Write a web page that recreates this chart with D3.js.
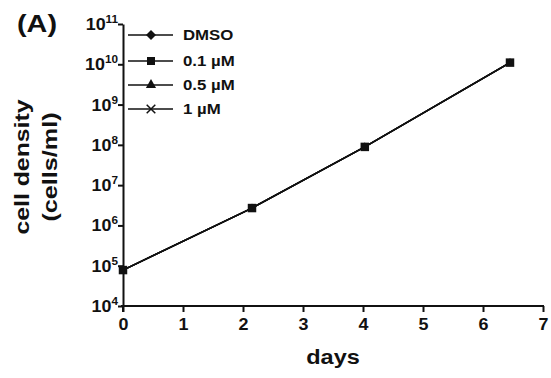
<!DOCTYPE html>
<html>
<head>
<meta charset="utf-8">
<script src="https://cdn.jsdelivr.net/npm/d3@7/dist/d3.min.js"></script>
<style>
  body { margin: 0; background: #fff; }
  text { font-family: Arial, "Liberation Sans", sans-serif; font-weight: bold; fill: #111; }
</style>
</head>
<body>
<svg id="chart" width="551" height="378"></svg>
<script>
// data
const days = [0, 2.15, 4.03, 6.45];
const dmso = [7.8e4, 2.7e6, 8.9e7, 1.1e10];
const um01 = [7.8e4, 2.7e6, 8.9e7, 1.1e10];
const um05 = [7.8e4, 2.7e6, 8.9e7, 1.1e10];
const um1  = [7.8e4, 2.7e6, 8.9e7, 1.1e10];
const seriesNames = ['DMSO', '0.1 µM', '0.5 µM', '1 µM'];
const xTicks = [0, 1, 2, 3, 4, 5, 6, 7];
const yExps = [4, 5, 6, 7, 8, 9, 10, 11];

const svg = d3.select('#chart');
const x = d3.scaleLinear().domain([0, 7]).range([123, 543]);
const y = d3.scaleLog().domain([1e4, 1e11]).range([306, 24]);

// the figure's lettering is wider than Arial, so stretch it a bit
function label(px, py, str, size, sx, rot) {
  return svg.append('text')
    .attr('transform', `translate(${px},${py})` + (rot ? ` rotate(${rot})` : '') + ` scale(${sx},1)`)
    .attr('font-size', size).text(str);
}

// axes
const xAxis = svg.append('g').attr('transform', 'translate(0,306)')
  .call(d3.axisBottom(x).tickValues(xTicks).tickFormat(d3.format('d'))
    .tickSize(6).tickPadding(7).tickSizeOuter(0));
const yAxis = svg.append('g').attr('transform', 'translate(123,0)')
  .call(d3.axisLeft(y).tickValues(yExps.map(e => Math.pow(10, e)))
    .tickSize(5).tickSizeOuter(0).tickFormat(''));
[xAxis, yAxis].forEach(g => {
  g.select('.domain').attr('stroke', '#111').attr('stroke-width', 2);
  g.selectAll('.tick line').attr('stroke', '#111').attr('stroke-width', 2);
});
xAxis.selectAll('.tick text').attr('font-size', 16).attr('font-family', 'Arial, "Liberation Sans", sans-serif')
  .attr('font-weight', 'bold').attr('fill', '#111').attr('transform', 'scale(1.12,1)');
xAxis.select('.domain').attr('d', 'M121,0H544');
yAxis.append('line').attr('x1', 0).attr('x2', 0).attr('y1', 306).attr('y2', 312)
  .attr('stroke', '#111').attr('stroke-width', 2);

// y tick labels as 10^n
yExps.forEach(e => {
  const t = svg.append('text')
    .attr('transform', `translate(118,${y(Math.pow(10, e)) + 6}) scale(1.12,1)`)
    .attr('text-anchor', 'end').attr('font-size', 16);
  t.append('tspan').text('10');
  t.append('tspan').attr('font-size', 10.5).attr('dy', -7).text(e);
});

// titles
label(17, 32, '(A)', 24, 1.2);
label(29, 167, 'cell density', 21, 1.18, -90).attr('text-anchor', 'middle');
label(57, 167, '(cells/ml)', 21, 1.2, -90).attr('text-anchor', 'middle');
label(333, 364, 'days', 21, 1.12).attr('text-anchor', 'middle');

// markers: diamond = square turned 45deg
const markers = [
  { type: d3.symbolSquare, rot: 45 },
  { type: d3.symbolSquare, rot: 0 },
  { type: d3.symbolTriangle, rot: 0 },
  { type: d3.symbolX, rot: 0 }
];
const dataSize = [28, 72, 28, 22];
const legSize = [50, 64, 45, 50];

// square series drawn last, it is the one that shows
const allSeries = [dmso, um05, um1, um01];
const symIdx = [0, 2, 3, 1];
const line = d3.line().x((d, i) => x(days[i])).y(d => y(d));
allSeries.forEach((s, k) => {
  const m = markers[symIdx[k]];
  svg.append('path').attr('d', line(s)).attr('fill', 'none')
    .attr('stroke', '#111').attr('stroke-width', 1.5);
  svg.selectAll(null).data(s).join('path')
    .attr('transform', (d, i) => `translate(${x(days[i])},${y(d)}) rotate(${m.rot})`)
    .attr('d', d3.symbol().type(m.type).size(dataSize[symIdx[k]]))
    .attr('fill', '#111').attr('stroke', '#111').attr('stroke-width', symIdx[k] === 3 ? 1.5 : 0);
});

// legend
const legY = [35, 61, 85, 109];
seriesNames.forEach((name, i) => {
  const g = svg.append('g').attr('transform', `translate(0,${legY[i]})`);
  g.append('line').attr('x1', 128).attr('x2', 173).attr('y1', 0).attr('y2', 0)
    .attr('stroke', '#111').attr('stroke-width', 1.5);
  g.append('path').attr('transform', `translate(151,0) rotate(${markers[i].rot})`)
    .attr('d', d3.symbol().type(markers[i].type).size(legSize[i]))
    .attr('fill', '#111').attr('stroke', '#111').attr('stroke-width', i === 3 ? 1.5 : 0);
  g.append('text').attr('transform', 'translate(183,5) scale(1.2,1)')
    .attr('font-size', 14).text(name);
});
</script>
</body>
</html>
